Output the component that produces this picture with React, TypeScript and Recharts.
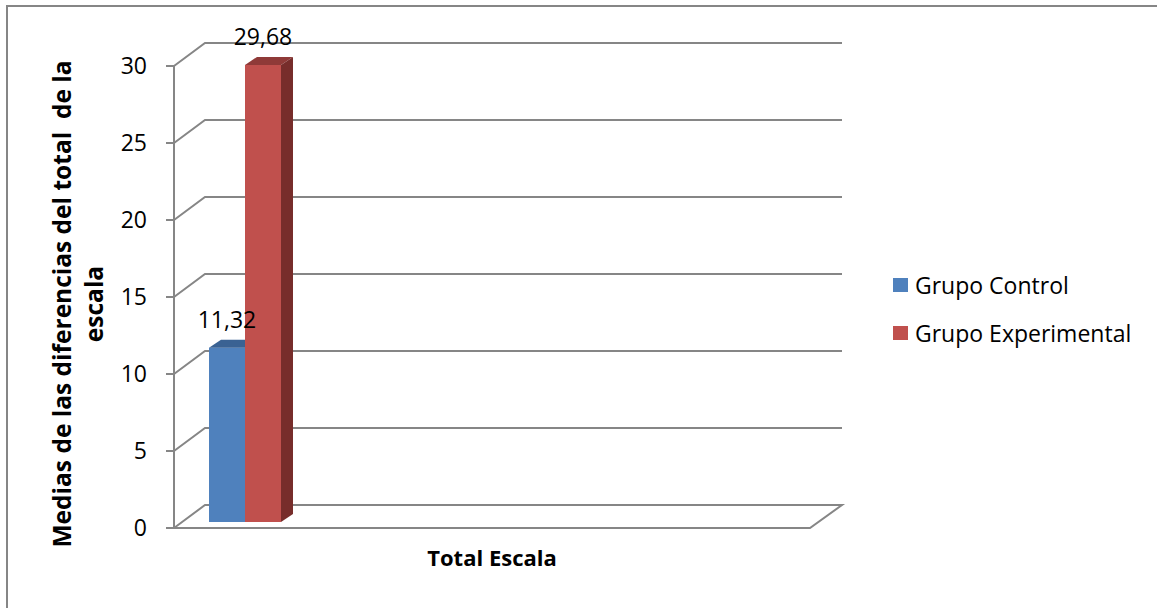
import { BarChart, Bar, XAxis, YAxis, CartesianGrid, Legend, LabelList } from "recharts";

const categories = ["Total Escala"];
const seriesNames = ["Grupo Control", "Grupo Experimental"];
const controlValues = [11.32];
const experimentalValues = [29.68];
const yTicks = [0, 5, 10, 15, 20, 25, 30];

const data = categories.map((name, i) => ({
  name,
  control: controlValues[i],
  experimental: experimentalValues[i],
}));

const FONT = "'Open Sans', sans-serif";
const GRID = "#868686";
const PLOT_BOTTOM = 528;
const LEGEND_W = 260;

// depth of the back wall and of the bars
const WALL_DX = 31;
const WALL_DY = 23;
const BAR_SHIFT_X = 8;
const BAR_SHIFT_Y = -6;
const BAR_DX = 12;
const BAR_DY = 8;

const colors = [
  { front: "#4F81BD", top: "#3A6293", side: "#2E4F78" },
  { front: "#C0504D", top: "#8F3A38", side: "#772D2B" },
];

const fmt = (v: number) => v.toFixed(2).replace(".", ",");

function GridLine(props: any) {
  const { x1, y1, x2, key } = props;
  const bx1 = x1 + WALL_DX;
  const bx2 = x2 + WALL_DX + 1;
  const by = y1 - WALL_DY;
  const floor = y1 >= PLOT_BOTTOM - 1;
  const d = floor
    ? `M${x1},${y1} L${bx1},${by} L${bx2},${by} L${x2},${y1} Z`
    : `M${x1},${y1} L${bx1},${by} L${bx2},${by}`;
  return <path key={key} d={d} fill="none" stroke={GRID} strokeWidth={2} />;
}

function Bar3D(props: any) {
  const { x, y, width, height, c } = props;
  const fx = x + BAR_SHIFT_X;
  const fy = y + BAR_SHIFT_Y;
  return (
    <g>
      <rect x={fx} y={fy} width={width} height={height} fill={c.front} />
      <polygon
        points={`${fx},${fy} ${fx + BAR_DX},${fy - BAR_DY} ${fx + width + BAR_DX},${fy - BAR_DY} ${fx + width},${fy}`}
        fill={c.top}
      />
      <polygon
        points={`${fx + width},${fy} ${fx + width + BAR_DX},${fy - BAR_DY} ${fx + width + BAR_DX},${fy + height - BAR_DY} ${fx + width},${fy + height}`}
        fill={c.side}
      />
    </g>
  );
}

function ValueLabel(props: any) {
  const { x, y, width, value } = props;
  return (
    <text
      x={x + BAR_SHIFT_X + width / 2}
      y={y + BAR_SHIFT_Y - 20}
      textAnchor="middle"
      fontFamily={FONT}
      fontSize={23}
      fill="#000"
    >
      {fmt(value)}
    </text>
  );
}

function CatTick(props: any) {
  const { x, y, payload } = props;
  return (
    <text x={x} y={y + 29} textAnchor="middle" dominantBaseline="central" fontFamily={FONT} fontSize={22} fontWeight={700} fill="#000">
      {payload.value}
    </text>
  );
}

function YTitle() {
  return (
    <text
      transform="translate(79,304) rotate(-90)"
      textAnchor="middle"
      fontFamily={FONT}
      fontSize={24.5}
      fontWeight={700}
      fill="#000"
      style={{ whiteSpace: "pre" }}
    >
      <tspan x={0} y={-8}>Medias de las diferencias del total  de la</tspan>
      <tspan x={0} y={24}>escala</tspan>
    </text>
  );
}

function LegendBox() {
  return (
    <div style={{ fontFamily: FONT, fontSize: 23, color: "#000", width: LEGEND_W }}>
      {seriesNames.map((n, i) => (
        <div key={n} style={{ display: "flex", alignItems: "center", height: 48, whiteSpace: "nowrap" }}>
          <span style={{ width: 15, height: 14, background: colors[i].front, marginRight: 7, display: "inline-block" }} />
          {n}
        </div>
      ))}
    </div>
  );
}

export default function App() {
  return (
    <div style={{ position: "absolute", left: 0, top: 0, width: 1157, height: 608, overflow: "hidden", background: "#fff" }}>
      <div
        style={{
          position: "absolute",
          left: 6,
          top: 5,
          width: 1300,
          height: 800,
          borderLeft: `2px solid ${GRID}`,
          borderTop: `2px solid ${GRID}`,
        }}
      />
      <div style={{ position: "absolute", left: 0, top: 0 }}>
        <BarChart
          width={1157}
          height={608}
          data={data}
          margin={{ top: 66, right: 347 - LEGEND_W, bottom: 50, left: 114 }}
          barGap={0}
          barCategoryGap={0}
        >
          <CartesianGrid vertical={false} horizontal={(p: any) => <GridLine {...p} />} />
          <XAxis xAxisId="bars" dataKey="name" hide height={0} padding={{ left: 27, right: 538 }} />
          <XAxis
            xAxisId="cat"
            dataKey="name"
            height={30}
            axisLine={false}
            tickLine={false}
            tickSize={0}
            tickMargin={0}
            tick={<CatTick />}
          />
          <YAxis
            domain={[0, 30]}
            ticks={yTicks}
            width={60}
            tickSize={8}
            tickMargin={19}
            axisLine={{ stroke: GRID, strokeWidth: 2 }}
            tickLine={{ stroke: GRID, strokeWidth: 2 }}
            tick={{ fontFamily: FONT, fontSize: 23, fill: "#000" }}
            label={<YTitle />}
          />
          <Legend
            layout="horizontal"
            verticalAlign="middle"
            align="right"
            content={<LegendBox />}
            wrapperStyle={{ left: 893, top: 261, right: "auto", width: LEGEND_W }}
          />
          <Bar
            xAxisId="bars"
            dataKey="control"
            name={seriesNames[0]}
            fill={colors[0].front}
            isAnimationActive={false}
            shape={(p: any) => <Bar3D {...p} c={colors[0]} />}
          >
            <LabelList dataKey="control" content={<ValueLabel />} />
          </Bar>
          <Bar
            xAxisId="bars"
            dataKey="experimental"
            name={seriesNames[1]}
            fill={colors[1].front}
            isAnimationActive={false}
            shape={(p: any) => <Bar3D {...p} c={colors[1]} />}
          >
            <LabelList dataKey="experimental" content={<ValueLabel />} />
          </Bar>
        </BarChart>
      </div>
    </div>
  );
}
